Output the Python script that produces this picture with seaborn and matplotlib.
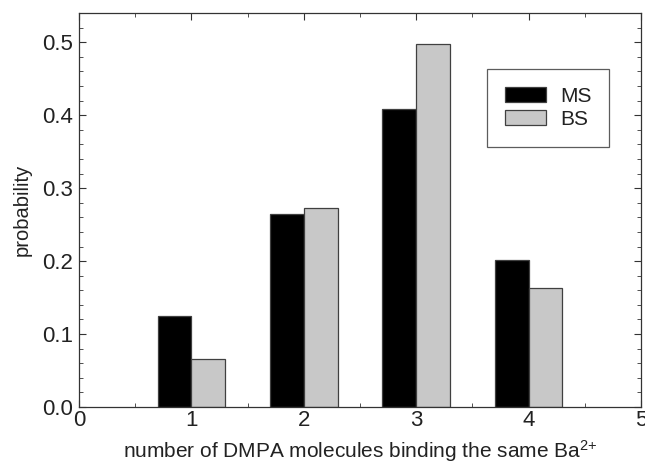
import pandas as pd
import matplotlib.pyplot as plt
import seaborn as sns
from matplotlib.ticker import MultipleLocator

# values
n_molecules = [1, 2, 3, 4]
ms_prob = [0.125, 0.264, 0.409, 0.201]
bs_prob = [0.066, 0.273, 0.497, 0.163]

df = pd.DataFrame({
    'n': n_molecules * 2,
    'p': ms_prob + bs_prob,
    'system': ['MS'] * 4 + ['BS'] * 4,
})

sns.set_style('ticks')
plt.rcParams['font.family'] = ['Liberation Sans', 'DejaVu Sans']
plt.rcParams['mathtext.fontset'] = 'custom'
plt.rcParams['mathtext.rm'] = 'Liberation Sans'
plt.rcParams['mathtext.default'] = 'regular'
plt.rcParams['text.color'] = '#222222'
plt.rcParams['axes.labelcolor'] = '#222222'

fig = plt.figure(figsize=(6.45, 4.68), dpi=100)
ax = fig.add_axes([0.1225, 0.1303, 0.8713, 0.8417])

sns.barplot(data=df, x='n', y='p', hue='system', native_scale=True,
            palette={'MS': 'black', 'BS': '#c8c8c8'}, width=0.6,
            edgecolor='#404040', linewidth=0.9, saturation=1, ax=ax)

ax.set_xlim(0, 5)
ax.set_ylim(0, 0.54)
ax.xaxis.set_major_locator(MultipleLocator(1))
ax.xaxis.set_minor_locator(MultipleLocator(0.5))
ax.yaxis.set_major_locator(MultipleLocator(0.1))
ax.yaxis.set_minor_locator(MultipleLocator(0.02))
ax.yaxis.set_major_formatter(plt.FuncFormatter(lambda v, _: f'{v:.1f}'))
ax.tick_params(which='both', direction='in', top=True, right=True,
               labeltop=False, labelright=False, colors='#333333',
               labelcolor='#222222')
ax.tick_params(which='major', length=5, labelsize=16)
ax.tick_params(which='minor', length=3)
ax.tick_params(axis='x', which='major', pad=2)
ax.tick_params(axis='y', which='major', pad=4)
for s in ax.spines.values():
    s.set_color('#333333')
    s.set_linewidth(0.9)

ax.set_ylabel('probability', fontsize=14.5, labelpad=8)
ax.set_xlabel(r'number of DMPA molecules binding the same Ba$^{2\!+}$',
              fontsize=15, labelpad=5)

leg = ax.legend(loc='upper right', bbox_to_anchor=(0.943, 0.858),
                borderaxespad=0, frameon=True, fancybox=False,
                edgecolor='#333333', fontsize=15, handlelength=2.0,
                handleheight=0.7, borderpad=0.85, labelspacing=0.2,
                handletextpad=0.65)
leg.get_frame().set_linewidth(0.9)

fig.savefig('out.png', dpi=100)
